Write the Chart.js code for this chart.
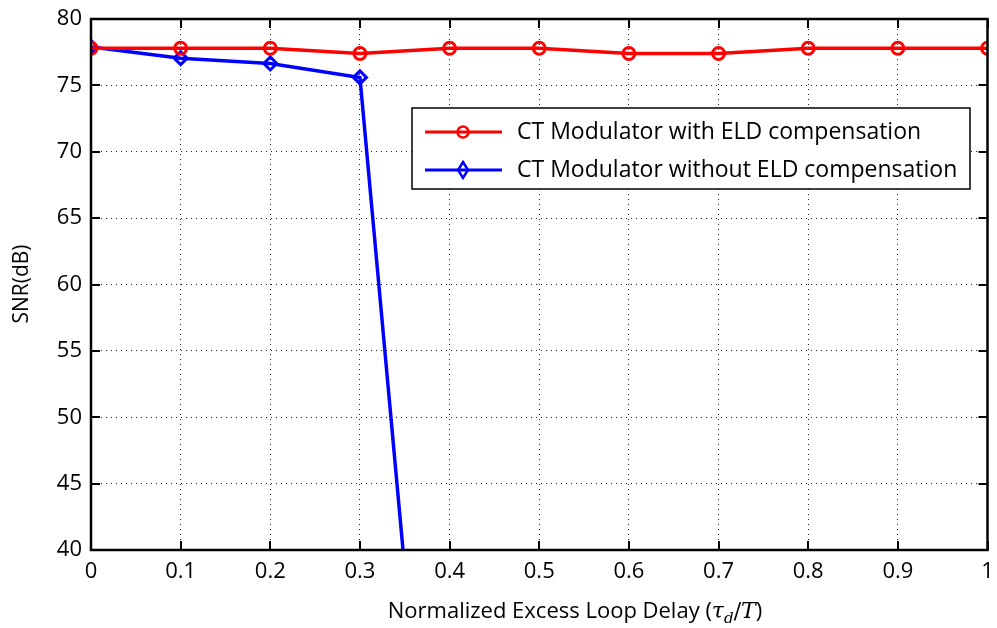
<!DOCTYPE html>
<html>
<head>
<meta charset="utf-8">
<script src="https://cdn.jsdelivr.net/npm/chart.js@4/dist/chart.umd.min.js"></script>
<style>
  html, body { margin: 0; padding: 0; background: #fff; }
  #wrap { width: 997px; height: 628px; }
</style>
</head>
<body>
<div id="wrap"><canvas id="snr-chart" width="997" height="628"></canvas></div>
<script>
const delayWith = [0, 0.1, 0.2, 0.3, 0.4, 0.5, 0.6, 0.7, 0.8, 0.9, 1.0];
const snrWith = [77.8, 77.8, 77.8, 77.4, 77.8, 77.8, 77.4, 77.4, 77.8, 77.8, 77.8];
const delayWithout = [0, 0.1, 0.2, 0.3, 0.4];
const snrWithout = [77.9, 77.05, 76.65, 75.6, 1.5];
const xTicks = [0, 0.1, 0.2, 0.3, 0.4, 0.5, 0.6, 0.7, 0.8, 0.9, 1];
const yTicks = [40, 45, 50, 55, 60, 65, 70, 75, 80];
const seriesLabels = ['CT Modulator with ELD compensation', 'CT Modulator without ELD compensation'];

const FONT = '"Open Sans", "Noto Sans", sans-serif';

// box, inward ticks, axis titles and legend drawn on top
const framePlugin = {
    id: 'frame',
    afterDraw(chart) {
        const ctx = chart.ctx;
        const a = chart.chartArea;
        const xs = chart.scales.x, ys = chart.scales.y;
        ctx.save();
        ctx.strokeStyle = '#000';
        ctx.lineWidth = 2;
        ctx.beginPath();
        xTicks.forEach(v => {
            const px = Math.round(xs.getPixelForValue(v));
            ctx.moveTo(px, a.bottom); ctx.lineTo(px, a.bottom - 9);
            ctx.moveTo(px, a.top); ctx.lineTo(px, a.top + 9);
        });
        yTicks.forEach(v => {
            const py = Math.round(ys.getPixelForValue(v));
            ctx.moveTo(a.left, py); ctx.lineTo(a.left + 9, py);
            ctx.moveTo(a.right, py); ctx.lineTo(a.right - 9, py);
        });
        ctx.stroke();
        ctx.lineWidth = 2.5;
        ctx.strokeRect(a.left, a.top, a.right - a.left, a.bottom - a.top);

        // y title
        ctx.fillStyle = '#000';
        ctx.font = '21px ' + FONT;
        ctx.textAlign = 'center';
        ctx.textBaseline = 'middle';
        ctx.translate(22, 284);
        ctx.rotate(-Math.PI / 2);
        ctx.fillText('SNR(dB)', 0, 0);
        ctx.setTransform(1, 0, 0, 1, 0, 0);

        // x title with (τ_d/T)
        const parts = [
            { t: 'Normalized Excess Loop Delay (', f: '22px ' + FONT, dy: 0 },
            { t: 'τ', f: 'italic 22px "DejaVu Serif", serif', dy: 0 },
            { t: 'd', f: 'italic 15px "DejaVu Serif", serif', dy: 5 },
            { t: '/', f: '22px "DejaVu Serif", serif', dy: 0 },
            { t: 'T', f: 'italic 22px "DejaVu Serif", serif', dy: 0 },
            { t: ')', f: '22px ' + FONT, dy: 0 }
        ];
        let total = 0;
        parts.forEach(p => { ctx.font = p.f; p.w = ctx.measureText(p.t).width; total += p.w; });
        let x = 575 - total / 2;
        ctx.textAlign = 'left';
        ctx.textBaseline = 'alphabetic';
        parts.forEach(p => { ctx.font = p.f; ctx.fillText(p.t, x, 618 + p.dy); x += p.w; });

        // legend
        const lx = 412, ly = 108, lw = 558, lh = 81;
        ctx.fillStyle = '#fff';
        ctx.fillRect(lx, ly, lw, lh);
        ctx.strokeStyle = '#000';
        ctx.lineWidth = 1.5;
        ctx.strokeRect(lx, ly, lw, lh);
        chart.data.datasets.forEach((ds, i) => {
            const cy = ly + 24 + i * 38;
            ctx.strokeStyle = ds.borderColor;
            ctx.lineWidth = 3;
            ctx.beginPath();
            ctx.moveTo(lx + 13, cy); ctx.lineTo(lx + 90, cy);
            ctx.stroke();
            ctx.lineWidth = 2.5;
            ctx.beginPath();
            const mx = lx + 51;
            if (ds.pointStyle === 'circle') {
                ctx.arc(mx, cy, 5.5, 0, Math.PI * 2);
            } else {
                ctx.moveTo(mx, cy - 8); ctx.lineTo(mx + 5, cy); ctx.lineTo(mx, cy + 8); ctx.lineTo(mx - 5, cy); ctx.closePath();
            }
            ctx.stroke();
            ctx.fillStyle = '#000';
            ctx.font = '23px ' + FONT;
            ctx.textBaseline = 'middle';
            ctx.fillText(ds.label, lx + 105, cy);
        });
        ctx.restore();
    }
};

new Chart(document.getElementById('snr-chart').getContext('2d'), {
    type: 'line',
    data: {
        datasets: [{
            label: seriesLabels[0],
            data: delayWith.map((d, i) => ({ x: d, y: snrWith[i] })),
            borderColor: '#ff0000',
            backgroundColor: 'transparent',
            borderWidth: 3.5,
            pointStyle: 'circle',
            pointRadius: 6,
            pointBorderWidth: 3,
            pointBackgroundColor: 'transparent',
            pointBorderColor: '#ff0000'
        }, {
            label: seriesLabels[1],
            data: delayWithout.map((d, i) => ({ x: d, y: snrWithout[i] })),
            borderColor: '#0000ff',
            backgroundColor: 'transparent',
            borderWidth: 3.5,
            pointStyle: 'rectRot',
            pointRadius: 6.5,
            pointBorderWidth: 3,
            pointBackgroundColor: 'transparent',
            pointBorderColor: '#0000ff'
        }]
    },
    options: {
        responsive: false,
        animation: false,
        layout: { padding: { top: 19, right: 5, left: 0, bottom: 0 } },
        scales: {
            x: {
                type: 'linear',
                min: 0, max: 1,
                afterBuildTicks: s => { s.ticks = xTicks.map(v => ({ value: v })); },
                afterFit: s => { s.height = 78; s.paddingLeft = 0; s.paddingRight = 0; },
                ticks: {
                    color: '#000',
                    font: { family: FONT, size: 22 },
                    padding: 9,
                    maxRotation: 0,
                    callback: v => String(v)
                },
                grid: { color: '#222', lineWidth: 1, drawTicks: false },
                border: { display: false, dash: [1, 4] }
            },
            y: {
                min: 40, max: 80,
                afterBuildTicks: s => { s.ticks = yTicks.map(v => ({ value: v })); },
                afterFit: s => { s.width = 91; s.paddingTop = 0; s.paddingBottom = 0; },
                ticks: {
                    color: '#000',
                    font: { family: FONT, size: 22 },
                    padding: 9
                },
                grid: { color: '#222', lineWidth: 1, drawTicks: false },
                border: { display: false, dash: [1, 4] }
            }
        },
        plugins: {
            legend: { display: false },
            tooltip: { enabled: false }
        }
    },
    plugins: [framePlugin]
});
</script>
</body>
</html>
